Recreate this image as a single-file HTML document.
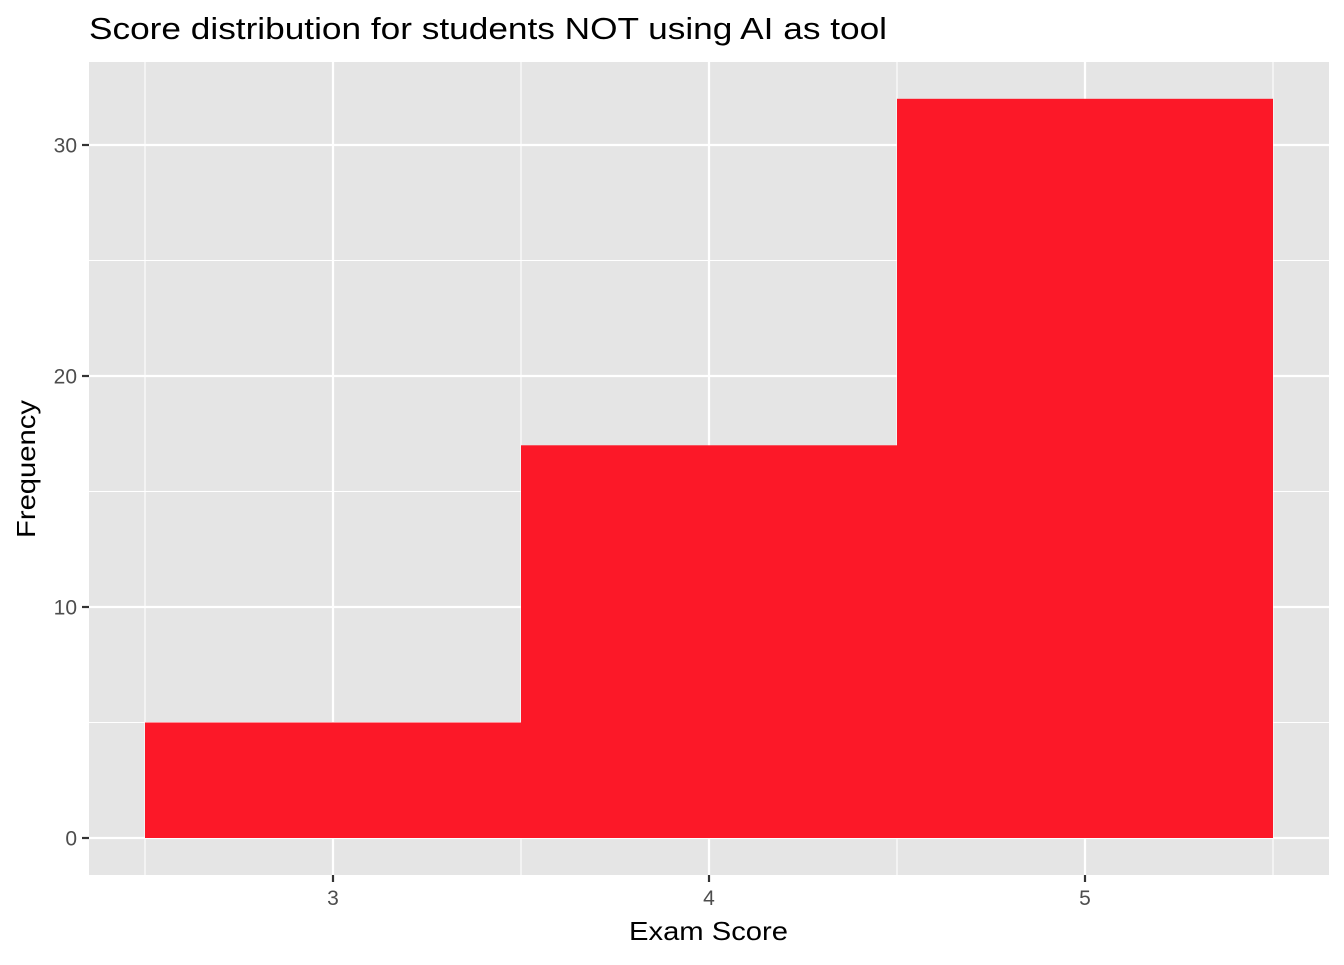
<!DOCTYPE html>
<html><head><meta charset="utf-8"><style>
body{margin:0;background:#fff;font-family:"Liberation Sans",Arial,sans-serif}
</style></head><body>
<svg width="1344" height="960" xmlns="http://www.w3.org/2000/svg">
<text x="89" y="39" font-size="31" textLength="798" lengthAdjust="spacingAndGlyphs" fill="#000">Score distribution for students NOT using AI as tool</text>
<rect x="89" y="62" width="1240" height="813" fill="#e5e5e5"/>
<g id="grid"></g>
<g id="bars"></g>
<g id="axes"></g>
<text x="629" y="940" font-size="26" textLength="159" lengthAdjust="spacingAndGlyphs" fill="#000">Exam Score</text>
<text transform="translate(35,538) rotate(-90)" font-size="26" textLength="138" lengthAdjust="spacingAndGlyphs" fill="#000">Frequency</text>
</svg>
<script>
const binStarts=[2.5,3.5,4.5];
const binWidth=1;
const counts=[5,17,32];
const xTicks=[3,4,5];
const yTicks=[0,10,20,30];
const xMinor=[2.5,3.5,4.5,5.5];
const yMinor=[5,15,25];
const NS="http://www.w3.org/2000/svg";
const X=v=>333+(v-3)*376;
const Y=v=>838-v*23.1;
function mk(t,a,p){const e=document.createElementNS(NS,t);for(const k in a)e.setAttribute(k,a[k]);p.appendChild(e);return e;}
const g=document.getElementById('grid'),b=document.getElementById('bars'),ax=document.getElementById('axes');
xMinor.forEach(v=>{const l=mk('line',{x1:X(v),x2:X(v),y1:62,y2:875,stroke:'#fff','stroke-width':1.1},g);

});
yMinor.forEach(v=>{const l=mk('line',{x1:89,x2:1329,y1:Y(v),y2:Y(v),stroke:'#fff','stroke-width':1.1},g);

});
xTicks.forEach(v=>{const l=mk('line',{x1:X(v),x2:X(v),y1:62,y2:875,stroke:'#fff','stroke-width':2.2},g);


const t=mk('line',{x1:X(v),x2:X(v),y1:875,y2:882,stroke:'#333','stroke-width':2.2},ax);


const tx=mk('text',{x:X(v),y:905,'font-size':21,'text-anchor':'middle',fill:'#4d4d4d'},ax);tx.textContent=v;

});
yTicks.forEach(v=>{const l=mk('line',{x1:89,x2:1329,y1:Y(v),y2:Y(v),stroke:'#fff','stroke-width':2.2},g);


const t=mk('line',{x1:82,x2:89,y1:Y(v),y2:Y(v),stroke:'#333','stroke-width':2.2},ax);


const tx=mk('text',{x:77,y:Y(v)+7.5,'font-size':21,'text-anchor':'end',fill:'#4d4d4d'},ax);tx.textContent=v;

});
counts.forEach((c,i)=>{const r=mk('rect',{x:X(binStarts[i]),y:Y(c),width:X(binStarts[i]+binWidth)-X(binStarts[i]),height:Y(0)-Y(c),fill:'#fc1828'},b);

});
</script>
</body></html>
